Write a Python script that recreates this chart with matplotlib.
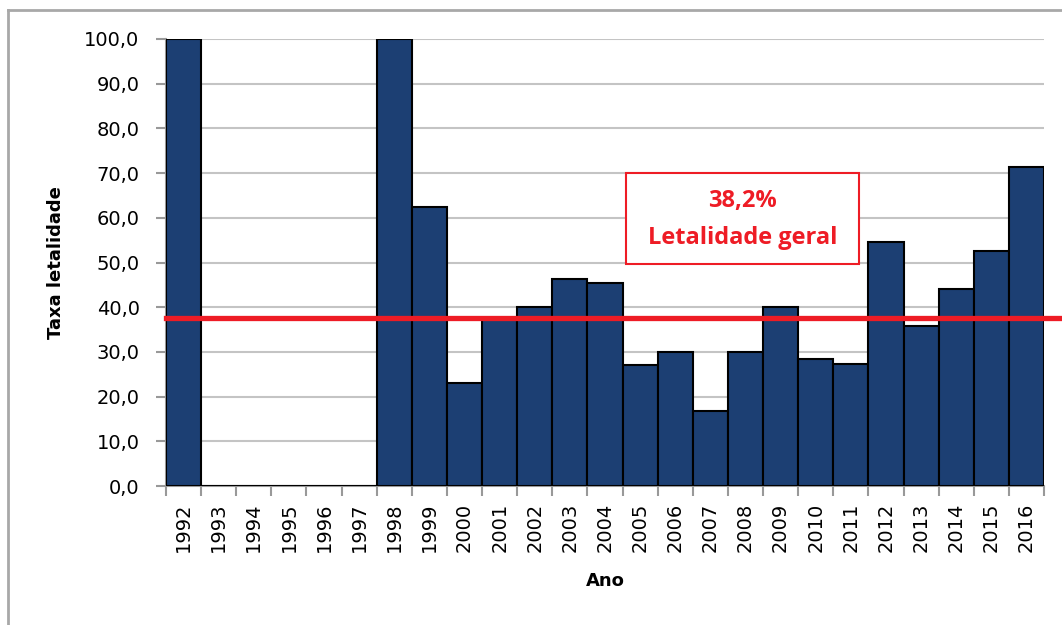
import numpy as np
import matplotlib
matplotlib.use('Agg')
import matplotlib.pyplot as plt
from matplotlib.lines import Line2D
from matplotlib.patches import Rectangle

anos = [str(a) for a in range(1992, 2017)]
taxa = [100.0, 0, 0, 0, 0, 0, 100.0, 62.5, 23.0, 37.5, 40.0, 46.2, 45.5,
        27.1, 30.0, 16.7, 30.0, 40.0, 28.4, 27.3, 54.5, 35.8, 44.1, 52.6, 71.4]
linha_geral = 37.6
rotulo_geral = ['38,2%', 'Letalidade geral']

W, H = 1062, 625
fig = plt.figure(figsize=(W / 100, H / 100), dpi=100)
ax = fig.add_axes([166 / W, 1 - 486 / H, (1044 - 166) / W, (486 - 39) / H])

x = np.arange(len(anos))
ax.bar(x, taxa, width=1.0, color='#1c3f73', edgecolor='black', linewidth=1.5, zorder=3)

ax.set_xlim(-0.5, len(anos) - 0.5)
ax.set_ylim(0, 100)
ax.set_yticks(np.arange(0, 101, 10))
ax.set_yticklabels([f'{v:.1f}'.replace('.', ',') for v in np.arange(0, 101, 10)])
ax.grid(axis='y', color='#c4c4c4', lw=1.5, zorder=0)

# ticks nas fronteiras, rótulos no centro (estilo Excel)
ax.set_xticks(np.arange(-0.5, len(anos), 1.0))
ax.set_xticklabels([])
ax.set_xticks(x, minor=True)
ax.set_xticklabels(anos, minor=True, rotation=90)
ax.tick_params(axis='x', which='minor', length=0, pad=12, labelsize=14)
ax.tick_params(axis='x', which='major', length=7, color='#999999', width=1.5)
ax.tick_params(axis='y', length=7, color='#999999', width=1.5, pad=12, labelsize=14)

for s in ['top', 'right']:
    ax.spines[s].set_visible(False)
for s in ['left', 'bottom']:
    ax.spines[s].set_color('#999999')
    ax.spines[s].set_linewidth(1.5)

ax.set_ylabel('Taxa letalidade', fontsize=13, fontweight='bold', labelpad=14)
ax.set_xlabel('Ano', fontsize=13, fontweight='bold', labelpad=14)

ax.axhline(linha_geral, xmin=0, xmax=(1060 - 166) / (1044 - 166), color='#ee1c25',
           lw=3.8, zorder=4, clip_on=False)

# caixa de texto
bx0, by0, bx1, by1 = 626, 173, 859, 264
fig.patches.append(Rectangle((bx0 / W, 1 - by1 / H), (bx1 - bx0) / W, (by1 - by0) / H,
                             transform=fig.transFigure, facecolor='white',
                             edgecolor='#ee1c25', lw=1.5, zorder=5))
fig.text((bx0 + bx1) / 2 / W, 1 - 201 / H, rotulo_geral[0], ha='center', va='center',
         color='#ee1c25', fontsize=17, fontweight='bold', family='Open Sans', zorder=6)
fig.text((bx0 + bx1) / 2 / W, 1 - 238 / H, rotulo_geral[1], ha='center', va='center',
         color='#ee1c25', fontsize=17, fontweight='bold', family='Open Sans', zorder=6)

# borda externa do gráfico
fig.add_artist(Line2D([8 / W, 1], [1 - 10 / H, 1 - 10 / H], color='#a8a8a8', lw=2))
fig.add_artist(Line2D([8 / W, 8 / W], [0, 1 - 10 / H], color='#a8a8a8', lw=2))

fig.savefig('out.png', dpi=100)
